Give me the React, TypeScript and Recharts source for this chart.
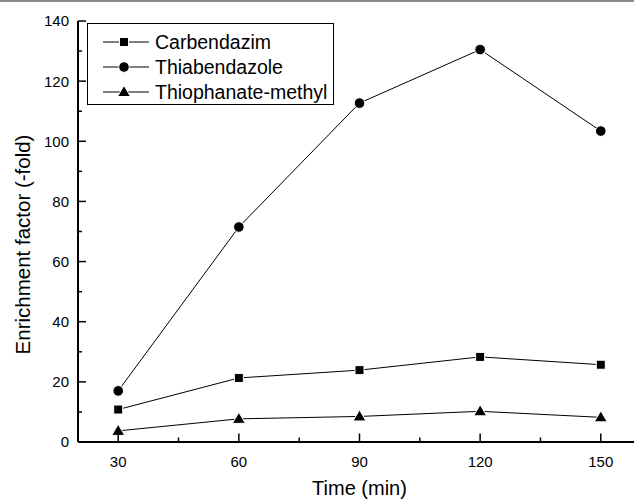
import React from "react";
import { LineChart, Line, XAxis, YAxis, Legend } from "recharts";

const times = [30, 60, 90, 120, 150];
const carbendazim = [10.8, 21.3, 23.9, 28.3, 25.7];
const thiabendazole = [17.0, 71.5, 112.7, 130.5, 103.4];
const thiophanateMethyl = [3.7, 7.7, 8.5, 10.2, 8.2];

const xTicks = [30, 45, 60, 75, 90, 105, 120, 135, 150];
const yTicks = [0, 10, 20, 30, 40, 50, 60, 70, 80, 90, 100, 110, 120, 130, 140];

const seriesList = [
  { key: "carbendazim", name: "Carbendazim", shape: "square" },
  { key: "thiabendazole", name: "Thiabendazole", shape: "circle" },
  { key: "thiophanate", name: "Thiophanate-methyl", shape: "triangle" },
];

const data = times.map((t, i) => ({
  time: t,
  carbendazim: carbendazim[i],
  thiabendazole: thiabendazole[i],
  thiophanate: thiophanateMethyl[i],
}));

const FONT = '"Liberation Sans", Arial, Helvetica, sans-serif';

const Marker = ({ shape, cx, cy }: { shape: string; cx: number; cy: number }) => {
  if (shape === "square") {
    return <rect x={cx - 4.5} y={cy - 4.5} width={9} height={9} fill="#000" stroke="#fff" strokeWidth={1} />;
  }
  if (shape === "circle") {
    return <circle cx={cx} cy={cy} r={5.3} fill="#000" stroke="#fff" strokeWidth={1} />;
  }
  return (
    <polygon
      points={`${cx},${cy - 6.5} ${cx + 6.5},${cy + 4.5} ${cx - 6.5},${cy + 4.5}`}
      fill="#000"
      stroke="#fff"
      strokeWidth={1}
    />
  );
};

// tick lines point inward, like the original plot
const YTick = (props: any) => {
  const { x, y, payload } = props;
  const major = payload.value % 20 === 0;
  return (
    <g>
      <line x1={x} x2={x + (major ? 8 : 4)} y1={y} y2={y} stroke="#000" strokeWidth={1.5} />
      {major && (
        <text x={x - 9} y={y} dy="0.36em" textAnchor="end" fontSize={15} fontFamily={FONT} fill="#000">
          {payload.value}
        </text>
      )}
    </g>
  );
};

const XTick = (props: any) => {
  const { x, y, payload } = props;
  const major = payload.value % 30 === 0;
  return (
    <g>
      <line x1={x} x2={x} y1={y} y2={y - (major ? 8.5 : 4.5)} stroke="#000" strokeWidth={1.5} />
      {major && (
        <text x={x} y={y + 24.5} textAnchor="middle" fontSize={15} fontFamily={FONT} fill="#000">
          {payload.value}
        </text>
      )}
    </g>
  );
};

const TopTick = (props: any) => {
  const { x, y, payload } = props;
  const major = payload.value % 30 === 0;
  return <line x1={x} x2={x} y1={y} y2={y + (major ? 8.5 : 4.5)} stroke="#000" strokeWidth={1.5} />;
};

const LegendBox = () => (
  <div
    style={{
      width: 247,
      height: 82,
      boxSizing: "border-box",
      border: "1px solid #000",
      background: "#fff",
      paddingTop: 6,
      fontFamily: FONT,
      fontSize: 19.5,
      color: "#000",
    }}
  >
    {seriesList.map((s) => (
      <div key={s.key} style={{ display: "flex", alignItems: "center", height: 24.7 }}>
        <svg width={46} height={16} style={{ marginLeft: 15, marginRight: 6 }}>
          <line x1={0} x2={46} y1={8} y2={8} stroke="#000" strokeWidth={1} />
          <Marker shape={s.shape} cx={21} cy={8} />
        </svg>
        <span style={{ lineHeight: "24px" }}>{s.name}</span>
      </div>
    ))}
  </div>
);

export default function App() {
  return (
    <div
      style={{
        position: "absolute",
        left: 0,
        top: 0,
        width: 634,
        height: 500,
        overflow: "hidden",
        background: "#fff",
      }}
    >
      <div style={{ position: "absolute", left: 0, top: 0, width: 634, height: 2, background: "#8c8c8c" }} />
      <LineChart width={660} height={500} data={data} margin={{ top: 21, right: 19, bottom: 0, left: 0 }}>
        <XAxis
          dataKey="time"
          type="number"
          domain={[20, 160]}
          ticks={xTicks}
          interval={0}
          height={58}
          tickSize={0}
          tickMargin={0}
          tickLine={false}
          tick={<XTick />}
          axisLine={{ stroke: "#000", strokeWidth: 2 }}
          allowDataOverflow
          label={{
            value: "Time (min)",
            position: "insideBottom",
            offset: 5,
            fontSize: 20,
            fontFamily: FONT,
            fill: "#000",
          }}
        />
        <XAxis
          xAxisId="top"
          orientation="top"
          type="number"
          domain={[20, 160]}
          ticks={xTicks}
          interval={0}
          height={0}
          tickSize={0}
          tickMargin={0}
          tickLine={false}
          tick={<TopTick />}
          axisLine={{ stroke: "#000", strokeWidth: 2 }}
          allowDataOverflow
        />
        <YAxis
          type="number"
          domain={[0, 140]}
          ticks={yTicks}
          interval={0}
          width={78}
          tickSize={0}
          tickMargin={0}
          tickLine={false}
          tick={<YTick />}
          axisLine={{ stroke: "#000", strokeWidth: 2 }}
          allowDataOverflow
          label={({ viewBox }: any) => {
            const cx = viewBox.x + 23;
            const cy = viewBox.y + viewBox.height / 2 + 13;
            return (
              <text
                x={cx}
                y={cy}
                transform={`rotate(-90, ${cx}, ${cy})`}
                textAnchor="middle"
                dy="0.36em"
                fontSize={20.5}
                fontFamily={FONT}
                fill="#000"
              >
                Enrichment factor (-fold)
              </text>
            );
          }}
        />
        <Legend
          layout="horizontal"
          verticalAlign="middle"
          align="center"
          content={() => <LegendBox />}
          wrapperStyle={{ left: 87, top: 23, width: 247, height: 82 }}
        />
        {seriesList.map((s) => (
          <Line
            key={s.key}
            dataKey={s.key}
            name={s.name}
            type="linear"
            stroke="#000"
            strokeWidth={1}
            isAnimationActive={false}
            dot={(p: any) => <Marker key={`${s.key}-${p.index}`} shape={s.shape} cx={p.cx} cy={p.cy} />}
            activeDot={false}
          />
        ))}
      </LineChart>
    </div>
  );
}
